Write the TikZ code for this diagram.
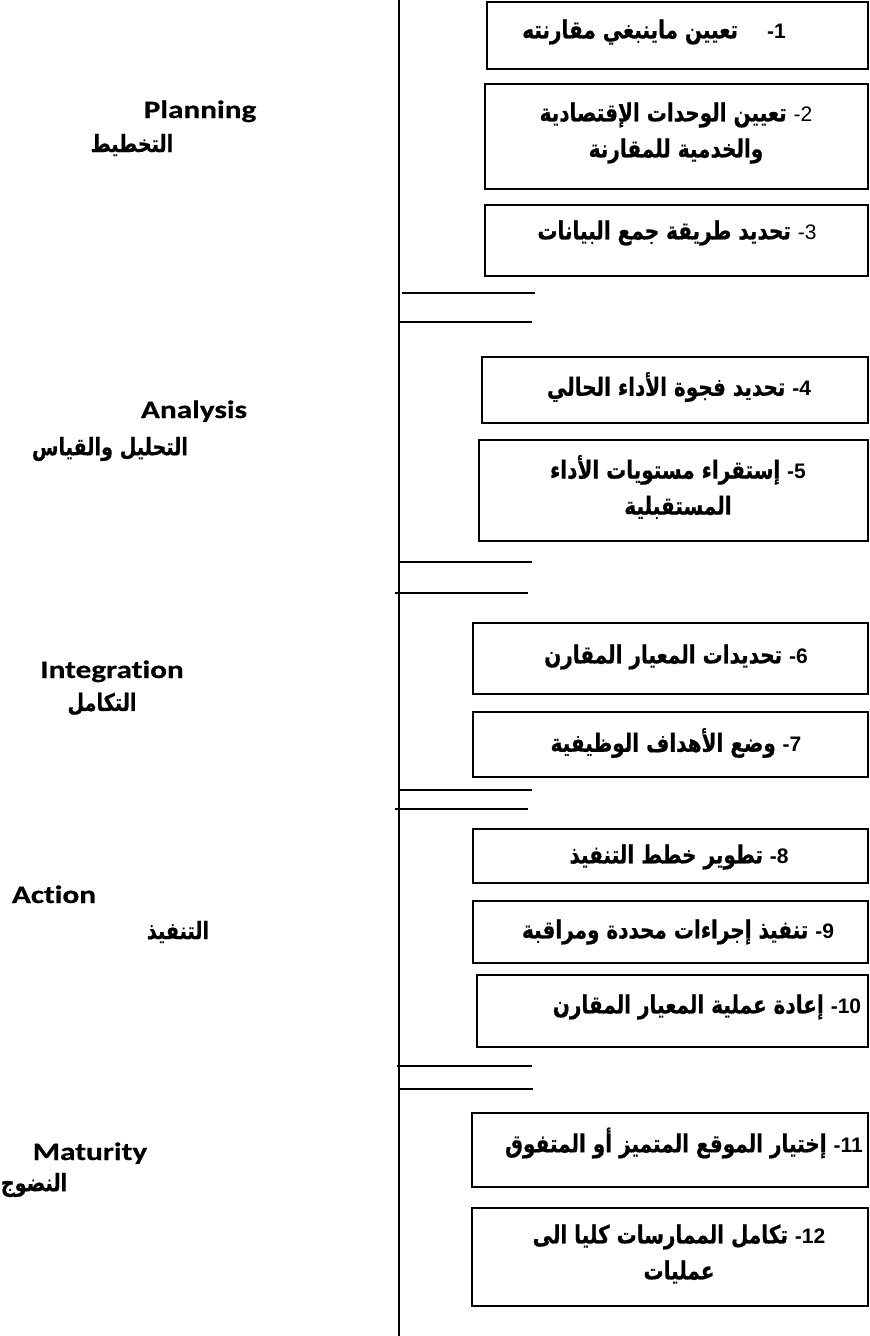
\documentclass[tikz,border=0pt]{standalone}
\usepackage{fontspec}
\usepackage{tikz}
\usetikzlibrary{positioning}
\TeXXeTstate=1
\newfontfamily\arabicfont[Script=Arabic,FakeStretch=0.8,BoldFeatures={FakeBold=0.6}]{DejaVu Sans}
\newfontfamily\digitfont{Liberation Sans}
\newfontfamily\phasefont[FakeStretch=1.25,Ligatures=NoCommon,BoldFeatures={FakeBold=0.5}]{Carlito}
\newcommand{\ar}[1]{{\arabicfont\beginR #1\endR}}
\newcommand{\stepno}[1]{\beginL{\digitfont\fontsize{21}{36}\selectfont #1}\endL{\digitfont\fontsize{21}{36}\selectfont -}}

\tikzset{
  stepbox/.style={draw, line width=1.8pt, inner sep=0pt},
  steptext/.style={font=\arabicfont\bfseries\fontsize{25}{36}\selectfont, align=center, inner sep=0pt},
  phase/.style={font=\phasefont\bfseries\fontsize{25}{30}\selectfont, inner sep=0pt, anchor=base},
  phasear/.style={font=\arabicfont\bfseries\fontsize{24}{28}\selectfont, inner sep=0pt},
  divider/.style={line width=1.8pt},
}

\begin{document}
\begin{tikzpicture}[x=1pt,y=-1pt]
  \useasboundingbox (0,0) rectangle (870,1336);

  % main vertical line
  \coordinate (top) at (399,0);
  \coordinate (bot) at (399,1336);
  \draw[divider] (top) -- (bot);

  % step boxes: number/left/top/bottom
  \foreach \n/\l/\t/\b in {1/487/2/69, 2/485/84/189, 3/485/205/276,
      4/482/357/423, 5/479/440/541, 6/473/623/694, 7/473/712/777,
      8/473/829/883, 9/473/901/963, 10/477/975/1047,
      11/472/1113/1187, 12/472/1208/1306}
    \node[stepbox, minimum width={868-\l}, minimum height={\b-\t}]
      (b\n) at ({(868+\l)/2},{(\t+\b)/2}) {};

  % step texts
  \node[steptext] (t1) at (654,32) {\ar{\stepno{1}\hspace{22pt} تعيين ماينبغي مقارنته}};
  \node[steptext] (t2) at (676,133) {\ar{{\mdseries\stepno{2}} تعيين الوحدات الإقتصادية}\\\ar{والخدمية للمقارنة}};
  \node[steptext] (t3) at (677,233) {\ar{{\mdseries\stepno{3}} تحديد طريقة جمع البيانات}};
  \node[steptext] (t4) at (679,387) {\ar{\stepno{4} تحديد فجوة الأداء الحالي}};
  \node[steptext] (t5) at (678,487) {\ar{\stepno{5} إستقراء مستويات الأداء}\\\ar{المستقبلية}};
  \node[steptext] (t6) at (676,657) {\ar{\stepno{6} تحديدات المعيار المقارن}};
  \node[steptext] (t7) at (676,743) {\ar{\stepno{7} وضع الأهداف الوظيفية}};
  \node[steptext] (t8) at (679,857) {\ar{\stepno{8} تطوير خطط التنفيذ}};
  \node[steptext] (t9) at (678,932) {\ar{\stepno{9} تنفيذ إجراءات محددة ومراقبة}};
  \node[steptext] (t10) at (707,1007) {\ar{\stepno{10} إعادة عملية المعيار المقارن}};
  \node[steptext] (t11) at (684,1143) {\ar{\stepno{11} إختيار الموقع المتميز أو المتفوق}};
  \node[steptext] (t12) at (679,1254) {\ar{\stepno{12} تكامل الممارسات كليا الى}\\\ar{عمليات}};

  % dividers between phases
  \draw[divider] (402,293) -- (535,293);
  \draw[divider] (399,322) -- (532,322);
  \draw[divider] (400,562) -- (532,562);
  \draw[divider] (395,593) -- (528,593);
  \draw[divider] (400,790) -- (532,790);
  \draw[divider] (395,809) -- (528,809);
  \draw[divider] (397,1066) -- (532,1066);
  \draw[divider] (400,1089) -- (533,1089);

  % phase labels
  \node[phase] (planning) at (200,118) {Planning};
  \node[phasear] (planningar) at (132,145) {\ar{التخطيط}};
  \node[phase] (analysis) at (194,418) {Analysis};
  \node[phasear] (analysisar) at (110,449) {\ar{التحليل والقياس}};
  \node[phase] (integration) at (112,678) {Integration};
  \node[phasear] (integrationar) at (102,704) {\ar{التكامل}};
  \node[phase] (action) at (54,903) {Action};
  \node[phasear] (actionar) at (178,932) {\ar{التنفيذ}};
  \node[phase] (maturity) at (90,1160) {Maturity};
  \node[phasear] (maturityar) at (34,1185) {\ar{النضوج}};
\end{tikzpicture}
\end{document}
